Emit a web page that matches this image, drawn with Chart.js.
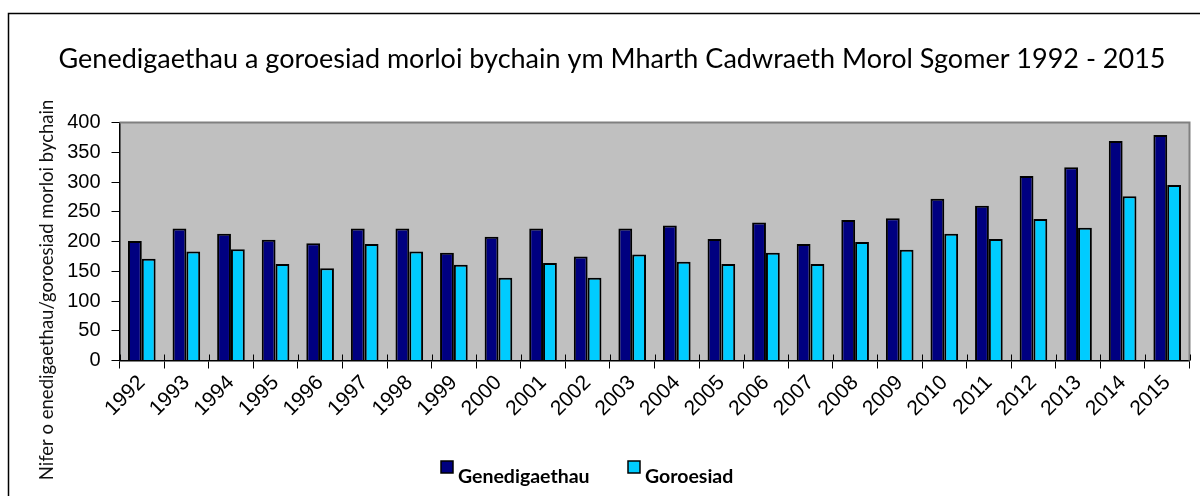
<!DOCTYPE html>
<html>
<head>
<meta charset="utf-8">
<script src="https://cdn.jsdelivr.net/npm/chart.js@4.4.1/dist/chart.umd.min.js"></script>
<style>
  html, body { margin: 0; padding: 0; background: #fff; }
  #wrap { width: 1200px; height: 496px; position: relative; }
</style>
</head>
<body>
<div id="wrap"><canvas id="c" width="1200" height="496"></canvas></div>
<script>
const years = ['1992','1993','1994','1995','1996','1997','1998','1999','2000','2001','2002','2003','2004','2005','2006','2007','2008','2009','2010','2011','2012','2013','2014','2015'];
const births = [201,222,213,203,197,222,222,181,208,222,175,222,227,204,232,196,236,239,272,260,310,325,369,379];
const survivors = [171,183,187,162,155,196,183,161,139,164,139,178,166,162,181,162,199,186,213,204,238,223,276,295];
const seriesNames = ['Genedigaethau', 'Goroesiad'];
const yTicks = [0,50,100,150,200,250,300,350,400];
const chartTitle = 'Genedigaethau a goroesiad morloi bychain ym Mharth Cadwraeth Morol Sgomer 1992 - 2015';
const yTitle = 'Nifer o enedigaethau/goroesiad morloi bychain';

const colDark = '#000080';
const colLight = '#00CCFF';

const decor = {
  id: 'decor',
  beforeDraw(chart) {
    const ctx = chart.ctx, a = chart.chartArea;
    ctx.save();
    ctx.fillStyle = '#fff';
    ctx.fillRect(0, 0, chart.width, chart.height);
    ctx.fillStyle = '#C0C0C0';
    ctx.fillRect(a.left, a.top, a.right - a.left, a.bottom - a.top);
    ctx.restore();
  },
  afterDraw(chart) {
    const ctx = chart.ctx, a = chart.chartArea;
    ctx.save();
    // plot border top/right
    ctx.strokeStyle = '#808080';
    ctx.lineWidth = 2;
    ctx.beginPath();
    ctx.moveTo(a.left, a.top);
    ctx.lineTo(a.right, a.top);
    ctx.lineTo(a.right, a.bottom);
    ctx.stroke();
    // x tick marks crossing the axis (category boundaries)
    const xs = chart.scales.x;
    ctx.strokeStyle = '#000';
    ctx.lineWidth = 1;
    for (let i = 0; i <= years.length; i++) {
      const px = Math.round(xs.getPixelForValue(i - 0.5)) + 0.5;
      ctx.beginPath();
      ctx.moveTo(px, a.bottom - 6);
      ctx.lineTo(px, a.bottom);
      ctx.stroke();
    }
    // outer frame
    ctx.strokeStyle = '#000';
    ctx.lineWidth = 1.5;
    ctx.beginPath();
    ctx.moveTo(8.5, 496);
    ctx.lineTo(8.5, 13.5);
    ctx.lineTo(1200, 13.5);
    ctx.stroke();
    // title
    ctx.fillStyle = '#000';
    ctx.font = '27px Lato';
    ctx.textAlign = 'center';
    ctx.textBaseline = 'alphabetic';
    ctx.fillText(chartTitle, 612, 68);
    // y title
    ctx.save();
    ctx.translate(53, 290);
    ctx.rotate(-Math.PI / 2);
    ctx.font = '18.5px Lato';
    ctx.fillStyle = '#111';
    ctx.textAlign = 'center';
    ctx.fillText(yTitle, 0, 0);
    ctx.restore();
    // legend
    const items = [
      { name: seriesNames[0], color: colDark, x: 441 },
      { name: seriesNames[1], color: colLight, x: 628 }
    ];
    ctx.font = 'bold 19.5px Lato';
    ctx.textAlign = 'left';
    items.forEach(it => {
      ctx.fillStyle = it.color;
      ctx.fillRect(it.x, 461, 12, 12);
      ctx.strokeStyle = '#000';
      ctx.lineWidth = 1.5;
      ctx.strokeRect(it.x, 461, 12, 12);
      ctx.fillStyle = '#000';
      ctx.fillText(it.name, it.x + 17, 483);
    });
    ctx.restore();
  }
};

new Chart(document.getElementById('c'), {
  type: 'bar',
  data: {
    labels: years,
    datasets: [
      { label: seriesNames[0], data: births, backgroundColor: colDark, borderColor: '#000', borderWidth: 2, categoryPercentage: 0.62, barPercentage: 1.0 },
      { label: seriesNames[1], data: survivors, backgroundColor: colLight, borderColor: '#000', borderWidth: 2, categoryPercentage: 0.62, barPercentage: 1.0 }
    ]
  },
  options: {
    responsive: false,
    animation: false,
    devicePixelRatio: 1,
    layout: { padding: { top: 122.5, right: 10.5, left: 0, bottom: 0 } },
    plugins: { legend: { display: false }, title: { display: false }, tooltip: { enabled: false } },
    scales: {
      x: {
        offset: true,
        afterFit(s) { s.height = 135.5; },
        grid: { display: true, offset: true, drawOnChartArea: false, drawTicks: true, tickLength: 8, color: '#000', lineWidth: 1 },
        border: { display: true, color: '#000', width: 1.5 },
        ticks: { color: '#000', font: { family: 'Liberation Sans', size: 21 }, minRotation: 45, maxRotation: 45, autoSkip: false, padding: 2 }
      },
      y: {
        min: 0, max: 400,
        afterFit(s) { s.width = 119.5; },
        afterBuildTicks(s) { s.ticks = yTicks.map(v => ({ value: v })); },
        grid: { display: true, drawOnChartArea: false, drawTicks: true, tickLength: 8, color: '#000', lineWidth: 1 },
        border: { display: true, color: '#000', width: 1.5 },
        ticks: { color: '#000', font: { family: 'Liberation Sans', size: 20 }, padding: 11 }
      }
    }
  },
  plugins: [decor]
});
</script>
</body>
</html>
